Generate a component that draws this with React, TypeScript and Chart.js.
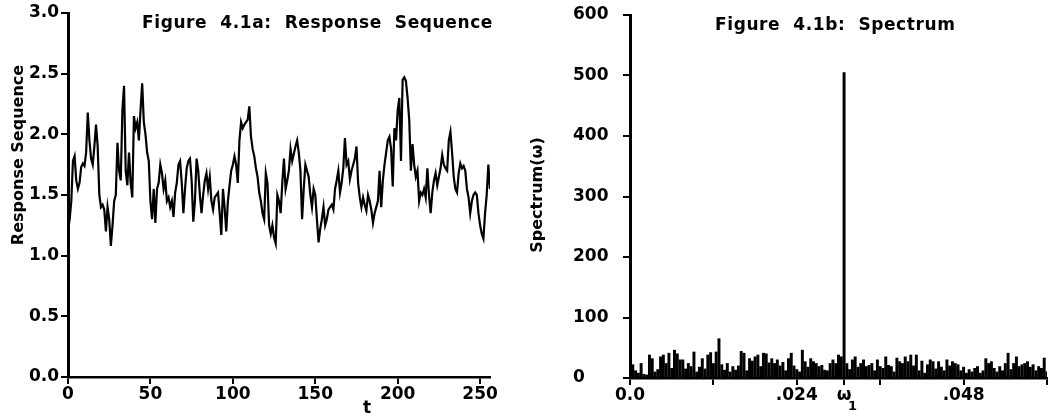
import React, { useEffect, useRef } from 'react';
import { Chart, registerables } from 'chart.js';

Chart.register(...registerables);

// ---------- Figure 4.1a: response sequence (t = 0 .. 256) ----------
const responseValues = [
  1.20, 1.30, 1.45, 1.78, 1.82, 1.62, 1.55, 1.60, 1.73, 1.76,
  1.74, 1.85, 2.18, 1.95, 1.80, 1.75, 1.90, 2.08, 1.90, 1.50,
  1.40, 1.42, 1.38, 1.20, 1.40, 1.30, 1.08, 1.25, 1.45, 1.50,
  1.93, 1.70, 1.62, 2.20, 2.40, 1.70, 1.58, 1.85, 1.60, 1.48,
  2.15, 2.05, 2.10, 1.95, 2.20, 2.42, 2.10, 2.00, 1.85, 1.78,
  1.45, 1.30, 1.55, 1.27, 1.55, 1.60, 1.75, 1.68, 1.55, 1.62,
  1.45, 1.48, 1.40, 1.45, 1.32, 1.52, 1.60, 1.75, 1.78, 1.60,
  1.35, 1.55, 1.72, 1.78, 1.80, 1.62, 1.28, 1.45, 1.80, 1.70,
  1.50, 1.35, 1.50, 1.62, 1.68, 1.55, 1.65, 1.45, 1.38, 1.48,
  1.50, 1.52, 1.35, 1.17, 1.55, 1.40, 1.20, 1.45, 1.58, 1.70,
  1.75, 1.82, 1.75, 1.60, 1.95, 2.10, 2.05, 2.08, 2.10, 2.12,
  2.23, 1.98, 1.88, 1.82, 1.72, 1.65, 1.52, 1.45, 1.35, 1.30,
  1.68, 1.60, 1.25, 1.18, 1.25, 1.15, 1.10, 1.50, 1.45, 1.35,
  1.60, 1.80, 1.55, 1.62, 1.70, 1.88, 1.78, 1.84, 1.90, 1.95,
  1.85, 1.70, 1.30, 1.55, 1.75, 1.70, 1.65, 1.50, 1.40, 1.55,
  1.50, 1.30, 1.11, 1.22, 1.30, 1.40, 1.25, 1.30, 1.38, 1.40,
  1.42, 1.38, 1.55, 1.62, 1.70, 1.52, 1.60, 1.72, 1.97, 1.75,
  1.78, 1.63, 1.70, 1.75, 1.80, 1.90, 1.60, 1.48, 1.40, 1.48,
  1.42, 1.37, 1.50, 1.45, 1.38, 1.27, 1.35, 1.40, 1.45, 1.70,
  1.40, 1.62, 1.75, 1.85, 1.95, 1.98, 1.88, 1.57, 2.05, 1.95,
  2.20, 2.30, 1.78, 2.45, 2.47, 2.44, 2.30, 2.12, 1.70, 1.92,
  1.75, 1.65, 1.70, 1.45, 1.52, 1.50, 1.55, 1.48, 1.72, 1.50,
  1.35, 1.52, 1.62, 1.68, 1.58, 1.65, 1.72, 1.83, 1.75, 1.72,
  1.70, 1.95, 2.02, 1.85, 1.65, 1.55, 1.52, 1.68, 1.76, 1.72,
  1.74, 1.70, 1.55, 1.48, 1.35, 1.45, 1.50, 1.52, 1.50, 1.35,
  1.25, 1.18, 1.14, 1.35, 1.50, 1.75, 1.55,
];
const responseMaxT = 256;
const responseXTicks = [0, 50, 100, 150, 200, 250];
const responseYTicks = [0, 0.5, 1.0, 1.5, 2.0, 2.5, 3.0];

// ---------- Figure 4.1b: spectrum (omega = 0 .. 0.06) ----------
const spectrumStep = 0.0004;
const spectrumValues = [
  38, 22, 12, 8, 24, 6, 5, 38, 32, 10,
  14, 35, 38, 24, 41, 16, 46, 40, 30, 30,
  15, 24, 19, 43, 10, 18, 32, 15, 38, 42,
  24, 43, 65, 22, 13, 24, 10, 19, 13, 20,
  44, 41, 12, 32, 28, 35, 38, 19, 41, 40,
  25, 32, 24, 30, 20, 26, 12, 32, 41, 20,
  14, 10, 46, 27, 18, 32, 27, 24, 19, 21,
  13, 12, 24, 30, 24, 38, 35, 505, 24, 14,
  30, 35, 18, 24, 30, 19, 21, 24, 12, 30,
  19, 16, 35, 21, 19, 10, 33, 27, 24, 35,
  27, 38, 20, 38, 12, 28, 8, 22, 30, 27,
  15, 27, 18, 12, 30, 20, 27, 24, 22, 12,
  18, 8, 14, 10, 16, 19, 8, 12, 32, 24,
  27, 16, 10, 19, 12, 24, 41, 14, 24, 35,
  19, 22, 24, 27, 18, 22, 12, 19, 16, 33,
  10,
];
const omega1 = 0.0308;
const spectrumXTicks = [0, 0.012, 0.024, omega1, 0.036, 0.048, 0.06];
const spectrumXLabels = ['0.0', '', '.024', 'ω', '', '.048', ''];
const omegaSubscript = '1';
const spectrumYTicks = [0, 100, 200, 300, 400, 500, 600];

const FAMILY = '"DejaVu Sans", sans-serif';
const tickFont = { family: FAMILY, size: 17, weight: 'bold' as const };

type TextItem = {
  text: string; x: number; y: number; font: string;
  align: CanvasTextAlign; baseline: CanvasTextBaseline; rotate?: boolean; spacing?: string;
};

const textPlugin = (items: TextItem[]) => ({
  id: 'panelText',
  afterDraw(chart: any) {
    const ctx: CanvasRenderingContext2D = chart.ctx;
    items.forEach((it) => {
      ctx.save();
      ctx.font = it.font;
      ctx.fillStyle = '#000';
      (ctx as any).letterSpacing = it.spacing || '0px';
      ctx.textAlign = it.align;
      ctx.textBaseline = it.baseline;
      ctx.translate(it.x, it.y);
      if (it.rotate) ctx.rotate(-Math.PI / 2);
      ctx.fillText(it.text, 0, 0);
      ctx.restore();
    });
  },
});

// subscript "1" under the omega tick label, placed through the x scale
const omegaSubPlugin = {
  id: 'omegaSub',
  afterDraw(chart: any) {
    const ctx: CanvasRenderingContext2D = chart.ctx;
    const x = chart.scales.x.getPixelForValue(omega1);
    ctx.save();
    ctx.font = `bold 13px ${FAMILY}`;
    ctx.fillStyle = '#000';
    ctx.textAlign = 'left';
    ctx.textBaseline = 'middle';
    ctx.fillText(omegaSubscript, x + 4, 407);
    ctx.restore();
  },
};

const axisGrid = {
  display: true,
  drawOnChartArea: false,
  drawTicks: true,
  tickLength: 7,
  color: '#000',
  lineWidth: 2,
};

function ResponseChart() {
  const ref = useRef<HTMLCanvasElement>(null);
  useEffect(() => {
    if (!ref.current) return;
    const chart = new Chart(ref.current, {
      type: 'line',
      data: {
        datasets: [
          {
            data: responseValues.map((v, i) => ({ x: i, y: v })),
            borderColor: '#000',
            borderWidth: 2.2,
            pointRadius: 0,
            tension: 0,
          },
        ],
      },
      options: {
        animation: false,
        responsive: false,
        devicePixelRatio: 1,
        layout: { padding: { top: 13, right: 35, left: 0, bottom: 0 } },
        plugins: { legend: { display: false }, tooltip: { enabled: false } },
        scales: {
          x: {
            type: 'linear',
            min: 0,
            max: responseMaxT,
            afterBuildTicks: (s: any) => { s.ticks = responseXTicks.map((v) => ({ value: v })); },
            afterFit: (s: any) => { s.height = 40; },
            ticks: { font: tickFont, color: '#000', padding: 0, maxRotation: 0, callback: (v: any) => String(v) },
            grid: axisGrid,
            border: { display: true, color: '#000', width: 2.5 },
          },
          y: {
            type: 'linear',
            min: 0,
            max: 3,
            afterBuildTicks: (s: any) => { s.ticks = responseYTicks.map((v) => ({ value: v })); },
            afterFit: (s: any) => { s.width = 68; },
            ticks: { font: tickFont, color: '#000', padding: 2, callback: (v: any) => Number(v).toFixed(1) },
            grid: axisGrid,
            border: { display: true, color: '#000', width: 3 },
          },
        },
      },
      plugins: [
        textPlugin([
          { text: 'Figure  4.1a:  Response  Sequence', x: 142, y: 28, font: `bold 17px ${FAMILY}`, align: 'left', baseline: 'alphabetic', spacing: '0.6px' },
          { text: 'Response Sequence', x: 19, y: 155, font: `bold 16px ${FAMILY}`, align: 'center', baseline: 'middle', rotate: true },
          { text: 't', x: 367, y: 409, font: `bold 17px ${FAMILY}`, align: 'center', baseline: 'middle' },
        ]),
      ],
    } as any);
    return () => chart.destroy();
  }, []);
  return <canvas ref={ref} width={525} height={417} style={{ display: 'block' }} />;
}

function SpectrumChart() {
  const ref = useRef<HTMLCanvasElement>(null);
  useEffect(() => {
    if (!ref.current) return;
    const chart = new Chart(ref.current, {
      type: 'bar',
      data: {
        datasets: [
          {
            data: spectrumValues.map((v, i) => ({ x: i * spectrumStep, y: v })),
            backgroundColor: '#000',
            borderWidth: 0,
            barThickness: 2.3,
            grouped: false,
          },
        ],
      },
      options: {
        animation: false,
        responsive: false,
        devicePixelRatio: 1,
        layout: { padding: { top: 15, right: 3, left: 48, bottom: 0 } },
        plugins: { legend: { display: false }, tooltip: { enabled: false } },
        scales: {
          x: {
            type: 'linear',
            min: 0,
            max: 0.06,
            offset: false,
            afterBuildTicks: (s: any) => { s.ticks = spectrumXTicks.map((v) => ({ value: v })); },
            afterFit: (s: any) => { s.height = 39; },
            ticks: {
              font: tickFont, color: '#000', padding: 0, maxRotation: 0, autoSkip: false,
              callback: (_v: any, i: number) => spectrumXLabels[i],
            },
            grid: { ...axisGrid, offset: false },
            border: { display: true, color: '#000', width: 2.5 },
          },
          y: {
            type: 'linear',
            min: 0,
            max: 600,
            afterBuildTicks: (s: any) => { s.ticks = spectrumYTicks.map((v) => ({ value: v })); },
            afterFit: (s: any) => { s.width = 57; },
            ticks: { font: tickFont, color: '#000', padding: 2, crossAlign: 'far', callback: (v: any) => String(v) },
            grid: axisGrid,
            border: { display: true, color: '#000', width: 3 },
          },
        },
      },
      plugins: [
        textPlugin([
          { text: 'Figure  4.1b:  Spectrum', x: 190, y: 30, font: `bold 17px ${FAMILY}`, align: 'left', baseline: 'alphabetic', spacing: '0.6px' },
          { text: 'Spectrum(ω)', x: 13, y: 195, font: `bold 16px ${FAMILY}`, align: 'center', baseline: 'middle', rotate: true },
        ]),
        omegaSubPlugin,
      ],
    } as any);
    return () => chart.destroy();
  }, []);
  return <canvas ref={ref} width={525} height={417} style={{ display: 'block' }} />;
}

export default function App() {
  return (
    <div style={{ position: 'absolute', left: 0, top: 0, width: 1050, height: 417, display: 'flex', background: '#fff' }}>
      <ResponseChart />
      <SpectrumChart />
    </div>
  );
}
